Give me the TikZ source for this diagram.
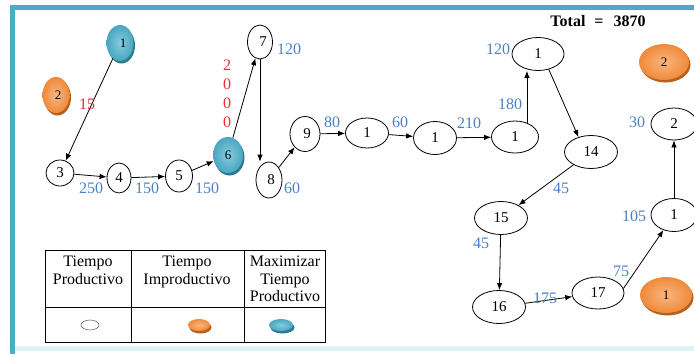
\documentclass[tikz,border=0pt]{standalone}
\usepackage{fontspec}
\setmainfont{Liberation Serif}
\usetikzlibrary{shapes.geometric,arrows.meta}

\definecolor{frameteal}{HTML}{4BACC6}
\definecolor{framelight}{HTML}{DDF2F8}
\definecolor{lblblue}{HTML}{4A7FC2}
\definecolor{lblred}{HTML}{F0283A}
\definecolor{tealtop}{HTML}{86CCDE}
\definecolor{tealmid}{HTML}{4AA6C0}
\definecolor{tealdark}{HTML}{2D7A90}
\definecolor{orgtop}{HTML}{FAB67F}
\definecolor{orgmid}{HTML}{EF8A3A}
\definecolor{orgdark}{HTML}{B5601C}

\tikzset{
  act/.style={ellipse, draw, line width=0.8pt, inner sep=0pt, fill=white,
    font=\fontsize{15}{17}\selectfont},
  maxact/.style={ellipse, inner sep=0pt, inner color=tealtop, outer color=tealmid,
    preaction={fill=tealdark, transform canvas={xshift=1.5pt, yshift=-2.5pt}},
    font=\fontsize{13}{15}\selectfont},
  impact/.style={ellipse, inner sep=0pt, inner color=orgtop, outer color=orgmid,
    preaction={fill=orgdark, transform canvas={xshift=1.5pt, yshift=-2.5pt}},
    font=\fontsize{13}{15}\selectfont},
  arr/.style={-{Latex[length=7pt,width=5.5pt]}, line width=0.8pt},
  tblue/.style={text=lblblue, font=\fontsize{16}{18}\selectfont, inner sep=0pt},
  tred/.style={text=lblred, font=\fontsize{16}{19}\selectfont, inner sep=0pt},
  hdr/.style={align=center, anchor=north, inner sep=0pt, font=\fontsize{16}{17.5}\selectfont},
}

\begin{document}
\begin{tikzpicture}[x=1pt, y=-1pt]
\useasboundingbox (0,0) rectangle (694,354);

% frame
\fill[framelight] (14,346) rectangle (694,351);
\fill[frameteal] (10,5) rectangle (694,10);
\fill[frameteal] (10,5) rectangle (15,354);

% total
\node[font=\bfseries\fontsize{16}{18}\selectfont, inner sep=0pt] (total) at (598,21)
  {Total\hspace{9pt}=\hspace{10pt}3870};

% activities
\node[maxact, minimum width=27, minimum height=36] (a1) at (120,43) {\hspace{6pt}1};
\node[impact, minimum width=27, minimum height=36] (a2) at (56,95) {\hspace{4pt}2};
\node[act, minimum width=28, minimum height=26] (a3) at (60,173) {3};
\node[act, minimum width=24, minimum height=30] (a4) at (119,178) {4};
\node[act, minimum width=27, minimum height=32] (a5) at (179,176) {5};
\node[maxact, minimum width=30, minimum height=36] (a6) at (228,155) {6};
\node[act, minimum width=25, minimum height=34] (a7) at (260,42) {\hspace{6pt}7};
\node[act, minimum width=26, minimum height=36] (a8) at (269,180) {\hspace{4pt}8};
\node[act, minimum width=30, minimum height=35] (a9) at (305,134) {\hspace{4pt}9};
\node[act, minimum width=43, minimum height=30] (a10) at (367,133) {1};
\node[act, minimum width=43, minimum height=33] (a11) at (435,138) {1};
\node[act, minimum width=47, minimum height=32] (a12) at (515,137) {1};
\node[act, minimum width=52, minimum height=33] (a13) at (538,54) {1};
\node[act, minimum width=53, minimum height=33] (a14) at (591,152) {14};
\node[act, minimum width=53, minimum height=33] (a15) at (501,218) {15};
\node[act, minimum width=53, minimum height=33] (a16) at (499,307) {16};
\node[act, minimum width=52, minimum height=32] (a17) at (598,293) {17};
\node[act, minimum width=46, minimum height=33] (a18) at (674,215) {1};
\node[act, minimum width=46, minimum height=32] (a19) at (674,124) {2};
\node[impact, minimum width=50, minimum height=36] (b1) at (664,62) {2};
\node[impact, minimum width=52, minimum height=36] (b2) at (666,295) {1};

% connectors
\draw[arr] (a1) -- (a3);
\draw[arr] (a3) -- (a4);
\draw[arr] (a4) -- (a5);
\draw[arr] (a5) -- (a6);
\draw[arr] (a6) -- (a7);
\draw[arr] (a7.south) -- (a7.south |- a8.north);
\draw[arr] (a8) -- (a9);
\draw[arr] (a9) -- (a10);
\draw[arr] (a10) -- (a11);
\draw[arr] (a11) -- (a12);
\draw[arr] (a12.50) -- (a12.50 |- a13.south);
\draw[arr] (a13.-55) -- (a14.130);
\draw[arr] (a14) -- (a15);
\draw[arr] (a15) -- (a16);
\draw[arr] (a16) -- (a17);
\draw[arr] (a17.10) -- (a18.235);
\draw[arr] (a18) -- (a19);

% times
\node[tred] (t15) at (87,104) {15};
\node[tred, align=center] (t2000) at (227,94) {2\\0\\0\\0};
\node[tblue] (t250) at (91,188) {250};
\node[tblue] (t150a) at (147,188) {150};
\node[tblue] (t150b) at (207,188) {150};
\node[tblue] (t120a) at (289,49) {120};
\node[tblue] (t60a) at (292,188) {60};
\node[tblue] (t80) at (332,122) {80};
\node[tblue] (t60b) at (400,122) {60};
\node[tblue] (t210) at (469,123) {210};
\node[tblue] (t180) at (510,104) {180};
\node[tblue] (t120b) at (498,49) {120};
\node[tblue] (t45a) at (561,188) {45};
\node[tblue] (t45b) at (481,243) {45};
\node[tblue] (t175) at (545,298) {175};
\node[tblue] (t75) at (621,271) {75};
\node[tblue] (t105) at (634,216) {105};
\node[tblue] (t30) at (637,122) {30};

% legend table
\draw[line width=0.8pt] (45,250) rectangle (325,342);
\draw[line width=0.8pt] (45,307) -- (325,307);
\draw[line width=0.8pt] (131,250) -- (131,342);
\draw[line width=0.8pt] (244,250) -- (244,342);
\node[hdr] (h1) at (88,256) {Tiempo\\Productivo};
\node[hdr] (h2) at (187,256) {Tiempo\\Improductivo};
\node[hdr] (h3) at (285,256) {Maximizar\\Tiempo\\Productivo};
\node[ellipse, draw=black!60, line width=0.6pt, minimum width=18, minimum height=10, inner sep=0pt] (k1) at (90,325) {};
\node[impact, minimum width=22, minimum height=12] (k2) at (199,325) {};
\node[maxact, minimum width=24, minimum height=12] (k3) at (281,325) {};
\end{tikzpicture}
\end{document}
